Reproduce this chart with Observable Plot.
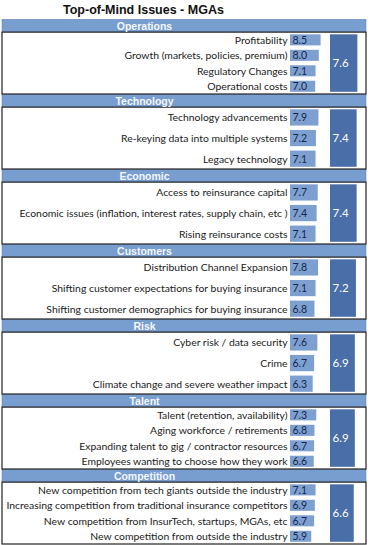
<!DOCTYPE html>
<html><head><meta charset="utf-8">
<script src="https://cdn.jsdelivr.net/npm/d3@7"></script>
<script src="https://cdn.jsdelivr.net/npm/@observablehq/plot@0.6"></script>
<style>
body{margin:0;background:#fff;}
#title{height:18px;line-height:20px;padding-left:63px;font-family:"Liberation Sans",Arial,sans-serif;font-size:12.5px;font-weight:bold;color:#111;white-space:nowrap;}
#chart svg{display:block;}
</style></head><body>
<div id="title">Top-of-Mind Issues - MGAs</div>
<div id="chart"></div>
<script>
const sections = ["Operations","Technology","Economic","Customers","Risk","Talent","Competition"];
const sectionAverages = [7.6, 7.4, 7.4, 7.2, 6.9, 6.9, 6.6];

const operationsIssues = ["Profitability","Growth (markets, policies, premium)","Regulatory Changes","Operational costs"];
const operationsScores = [8.5, 8.0, 7.1, 7.0];
const technologyIssues = ["Technology advancements","Re-keying data into multiple systems","Legacy technology"];
const technologyScores = [7.9, 7.2, 7.1];
const economicIssues = ["Access to reinsurance capital","Economic issues (inflation, interest rates, supply chain, etc )","Rising reinsurance costs"];
const economicScores = [7.7, 7.4, 7.1];
const customersIssues = ["Distribution Channel Expansion","Shifting customer expectations for buying insurance","Shifting customer demographics for buying insurance"];
const customersScores = [7.8, 7.1, 6.8];
const riskIssues = ["Cyber risk / data security","Crime","Climate change and severe weather impact"];
const riskScores = [7.6, 6.7, 6.3];
const talentIssues = ["Talent (retention, availability)","Aging workforce / retirements","Expanding talent to gig / contractor resources","Employees wanting to choose how they work"];
const talentScores = [7.3, 6.8, 6.7, 6.6];
const competitionIssues = ["New competition from tech giants outside the industry","Increasing competition from traditional insurance competitors","New competition from InsurTech, startups, MGAs, etc","New competition from outside the industry"];
const competitionScores = [7.1, 6.9, 6.7, 5.9];

const issueLabels = [operationsIssues, technologyIssues, economicIssues, customersIssues, riskIssues, talentIssues, competitionIssues];
const issueScores = [operationsScores, technologyScores, economicScores, customersScores, riskScores, talentScores, competitionScores];

// layout in "section units" (one unit per section block)
const pxPerUnit = 75;
const headerFrac = 0.175;
const rows = [], groups = [];
sections.forEach((s, i) => {
  const labels = issueLabels[i], n = labels.length;
  const boxTop = i + headerFrac, boxBot = i + 1;
  const step = (boxBot - boxTop) / n;
  const half = step / 2 - 2.2 / pxPerUnit;
  const rs = labels.map((l, j) => {
    const c = boxTop + (j + 0.5) * step;
    return {section: s, label: l, value: issueScores[i][j], y: c, y1: c - half, y2: c + half};
  });
  rows.push(...rs);
  groups.push({
    section: s, avg: sectionAverages[i],
    hy1: i + 0.004, hy2: boxTop, hc: (i + boxTop) / 2 + 0.004,
    by1: boxTop, by2: boxBot,
    ay1: rs[0].y1, ay2: rs[n - 1].y2, ac: (rs[0].y1 + rs[n - 1].y2) / 2
  });
});

const font = "Lato, sans-serif";
const chart = Plot.plot({
  width: 372, height: 527,
  marginLeft: 2, marginRight: 6, marginTop: 1, marginBottom: 1,
  style: {fontFamily: font, background: "white"},
  x: {domain: [0, 10], range: [290, 326], axis: null},
  y: {domain: [0, 7], range: [1, 526], axis: null},
  marks: [
    Plot.rect(groups, {y1: "hy1", y2: "hy2", fill: "#789dcf", stroke: "#5b7fb3", strokeWidth: 0.5}),
    Plot.rect(groups, {y1: "by1", y2: "by2", fill: "white", stroke: "#222", strokeWidth: 1.2}),
    Plot.text(groups, {y: "hc", text: "section", dx: -40, fill: "#f4f7fc", fontWeight: "bold", fontSize: 10.5, fontFamily: "'Liberation Sans', Arial, sans-serif", letterSpacing: "0.05em"}),
    Plot.rect(rows, {x1: 0, x2: "value", y1: "y1", y2: "y2", fill: "#7ea0d0"}),
    Plot.text(rows, {x: 0, y: "y", text: "label", textAnchor: "end", dx: -3, fontSize: 10.4, fill: "#1a1a1a"}),
    Plot.text(rows, {x: 0, y: "y", text: d => d.value.toFixed(1), textAnchor: "start", dx: 2, fontSize: 10.5, fill: "#14254a"}),
    Plot.rect(groups, {x1: 0, x2: "avg", y1: "ay1", y2: "ay2", dx: 40, fill: "#4a6ea8"}),
    Plot.text(groups, {x: 0, y: "ac", text: d => d.avg.toFixed(1), textAnchor: "start", dx: 42, fill: "white", fontSize: 11.5})
  ]
});
document.getElementById("chart").appendChild(chart);
</script>
</body></html>
